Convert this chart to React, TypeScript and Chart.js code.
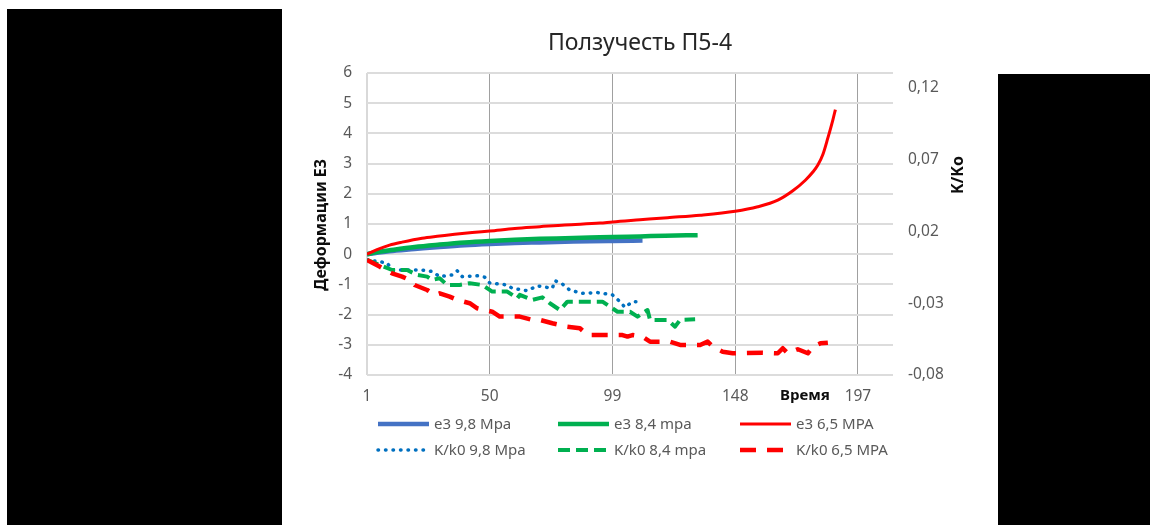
import { useEffect, useRef } from "react";
import { Chart, registerables } from "chart.js";

Chart.register(...registerables);

// ---- Chart text ----
const TITLE = "Ползучесть П5-4";
const Y_LEFT_TITLE = "Деформации Е3";
const Y_RIGHT_TITLE = "K/Ko";
const X_TITLE = "Время";

// ---- Axes ----
const X_MIN = 1;
const X_MAX = 211;
const X_TICKS = [1, 50, 99, 148, 197];
const Y_LEFT_MIN = -4;
const Y_LEFT_MAX = 6;
const Y_RIGHT_MIN = -0.08;
const Y_RIGHT_MAX = 0.13;
const Y_RIGHT_TICKS = [-0.08, -0.03, 0.02, 0.07, 0.12];

// ---- Series: deformation e3 (left axis) ----
const E3_98_NAME = "e3 9,8 Mpa";
const E3_98_T = [1, 5, 10, 20, 30, 40, 50, 60, 70, 80, 90, 99, 111];
const E3_98_V = [0, 0.05, 0.1, 0.17, 0.24, 0.3, 0.34, 0.37, 0.39, 0.41, 0.43, 0.44, 0.45];

const E3_84_NAME = "e3 8,4 mpa";
const E3_84_T = [1, 5, 10, 20, 30, 40, 50, 60, 70, 80, 90, 99, 110, 120, 133];
const E3_84_V = [0, 0.07, 0.13, 0.24, 0.32, 0.39, 0.44, 0.48, 0.51, 0.53, 0.55, 0.57, 0.59, 0.61, 0.63];

const E3_65_NAME = "e3 6,5 MPA";
const E3_65_T = [1, 5, 10, 15, 23, 30, 36, 43, 50, 60, 70, 80, 94, 99, 110, 121, 134, 148, 157, 165, 171, 176, 179, 181, 183, 185, 187, 188];
const E3_65_V = [0, 0.15, 0.3, 0.4, 0.53, 0.6, 0.66, 0.72, 0.77, 0.85, 0.91, 0.97, 1.03, 1.07, 1.14, 1.21, 1.29, 1.42, 1.57, 1.79, 2.1, 2.45, 2.72, 2.95, 3.3, 3.85, 4.45, 4.79];

// ---- Series: permeability ratio K/k0 (right axis) ----
const K_98_NAME = "K/k0 9,8 Mpa";
const K_98_T = [1, 5, 9, 11, 23, 27, 30, 35, 37, 39, 45, 48, 50, 57, 59, 65, 69, 75, 76, 79, 82, 87, 93, 99, 102, 104, 107, 110];
const K_98_V = [0, -0.001, -0.002, -0.007, -0.007, -0.008, -0.0116, -0.0104, -0.0075, -0.0116, -0.011, -0.012, -0.016, -0.0174, -0.0197, -0.0214, -0.018, -0.0197, -0.0144, -0.0167, -0.021, -0.0232, -0.0227, -0.0243, -0.029, -0.033, -0.029, -0.029];

const K_84_NAME = "K/k0 8,4 mpa";
const K_84_T = [1, 11, 17, 21, 25, 27, 30, 33, 38, 42, 47, 51, 57, 61, 62, 67, 71, 74, 78, 81, 95, 101, 106, 109, 113, 114, 121, 124, 126, 132];
const K_84_V = [0, -0.007, -0.007, -0.0104, -0.0116, -0.0139, -0.0127, -0.0174, -0.0174, -0.0162, -0.0174, -0.022, -0.022, -0.0267, -0.0243, -0.0278, -0.026, -0.0301, -0.0348, -0.029, -0.029, -0.036, -0.036, -0.0394, -0.0348, -0.0417, -0.0417, -0.0464, -0.0417, -0.0413];

const K_65_NAME = "K/k0 6,5 MPA";
const K_65_T = [1, 6, 11, 15, 18, 20, 25, 28, 30, 34, 37, 42, 45, 51, 54, 62, 67, 70, 75, 81, 86, 89, 103, 105, 107, 111, 114, 122, 126, 134, 137, 139, 143, 147, 159, 165, 167, 169, 173, 177, 179, 182, 185];
const K_65_V = [0, -0.0046, -0.0093, -0.0116, -0.0139, -0.0174, -0.0209, -0.0243, -0.0232, -0.0255, -0.0278, -0.0301, -0.0336, -0.036, -0.0394, -0.0394, -0.0417, -0.0417, -0.044, -0.0464, -0.0475, -0.0522, -0.0522, -0.0533, -0.0522, -0.0533, -0.0568, -0.0568, -0.0591, -0.0591, -0.0568, -0.0603, -0.0638, -0.0649, -0.0645, -0.0649, -0.0614, -0.0649, -0.0621, -0.0649, -0.0603, -0.058, -0.0575];

const FONT = "'Noto Sans', 'Open Sans', sans-serif";
const TICK_COLOR = "#595959";

const pts = (t: number[], v: number[]) => t.map((x, i) => ({ x, y: v[i] }));
const commaFmt = (v: number) => v.toFixed(2).replace(".", ",");

// Title, axis titles and a three-column legend drawn onto the canvas.
const decorPlugin = {
  id: "decor",
  afterDraw(chart: any) {
    const ctx: CanvasRenderingContext2D = chart.ctx;
    const w = chart.width;
    ctx.save();

    ctx.fillStyle = "#262626";
    ctx.font = `23px ${FONT}`;
    ctx.textAlign = "center";
    ctx.textBaseline = "middle";
    ctx.fillText(TITLE, w / 2, 43);

    ctx.fillStyle = "#0d0d0d";
    ctx.font = `bold 16px ${FONT}`;
    ctx.save();
    ctx.translate(39, 225);
    ctx.rotate(-Math.PI / 2);
    ctx.fillText(Y_LEFT_TITLE, 0, 0);
    ctx.restore();

    ctx.save();
    ctx.translate(676, 175);
    ctx.rotate(-Math.PI / 2);
    ctx.fillText(Y_RIGHT_TITLE, 0, 0);
    ctx.restore();

    ctx.font = `bold 15px ${FONT}`;
    ctx.fillText(X_TITLE, 523, 396);

    // legend: three columns, two rows
    const colX = [96, 276, 458];
    const rowY = [424, 450];
    const lineLen = 51;
    chart.data.datasets.forEach((ds: any, i: number) => {
      const x = colX[i % 3];
      const y = rowY[Math.floor(i / 3)];
      ctx.save();
      ctx.strokeStyle = ds.borderColor;
      ctx.lineWidth = ds.borderWidth;
      ctx.lineCap = ds.borderCapStyle || "butt";
      ctx.setLineDash(ds.borderDash || []);
      ctx.beginPath();
      ctx.moveTo(x, y);
      ctx.lineTo(x + lineLen, y);
      ctx.stroke();
      ctx.restore();
      ctx.fillStyle = TICK_COLOR;
      ctx.font = `15px ${FONT}`;
      ctx.textAlign = "left";
      ctx.textBaseline = "middle";
      ctx.fillText(ds.label, x + lineLen + 5, y + 1);
    });

    ctx.restore();
  },
};

export default function App() {
  const canvasRef = useRef<HTMLCanvasElement | null>(null);

  useEffect(() => {
    const canvas = canvasRef.current;
    if (!canvas) return;

    const chart = new Chart(canvas, {
      type: "line",
      data: {
        datasets: [
          {
            label: E3_98_NAME,
            data: pts(E3_98_T, E3_98_V),
            borderColor: "#4472C4",
            borderWidth: 4.5,
            yAxisID: "y",
            cubicInterpolationMode: "monotone",
            order: 5,
          },
          {
            label: E3_84_NAME,
            data: pts(E3_84_T, E3_84_V),
            borderColor: "#00B050",
            borderWidth: 4.5,
            yAxisID: "y",
            cubicInterpolationMode: "monotone",
            order: 4,
          },
          {
            label: E3_65_NAME,
            data: pts(E3_65_T, E3_65_V),
            borderColor: "#FF0000",
            borderWidth: 3,
            yAxisID: "y",
            cubicInterpolationMode: "monotone",
            order: 3,
          },
          {
            label: K_98_NAME,
            data: pts(K_98_T, K_98_V),
            borderColor: "#0070C0",
            borderWidth: 3.5,
            borderDash: [0.5, 7],
            borderCapStyle: "round",
            yAxisID: "y1",
            order: 2,
          },
          {
            label: K_84_NAME,
            data: pts(K_84_T, K_84_V),
            borderColor: "#00B050",
            borderWidth: 4,
            borderDash: [12, 6],
            yAxisID: "y1",
            order: 1,
          },
          {
            label: K_65_NAME,
            data: pts(K_65_T, K_65_V),
            borderColor: "#FF0000",
            borderWidth: 4.5,
            borderDash: [16, 11],
            yAxisID: "y1",
            order: 0,
          },
        ] as any,
      },
      options: {
        animation: false,
        responsive: false,
        events: [],
        elements: { point: { radius: 0 }, line: { borderJoinStyle: "round" } },
        layout: { padding: { top: 73, left: 0, right: 0, bottom: 0 } },
        plugins: {
          legend: { display: false },
          title: { display: false },
          tooltip: { enabled: false },
        },
        scales: {
          x: {
            type: "linear",
            min: X_MIN,
            max: X_MAX,
            afterBuildTicks: (axis: any) => {
              axis.ticks = X_TICKS.map((value) => ({ value }));
            },
            afterFit: (scale: any) => {
              scale.height = 150;
            },
            border: { display: false },
            grid: {
              drawTicks: false,
              color: (c: any) => (c.tick && c.tick.value === X_MIN ? "#d9d9d9" : "#a0a0a0"),
              lineWidth: (c: any) => (c.tick && c.tick.value === X_MIN ? 2 : 1),
            },
            ticks: {
              padding: 12,
              color: TICK_COLOR,
              font: { family: FONT, size: 15.5 },
              maxRotation: 0,
              autoSkip: false,
              callback: (v: any) => String(v),
            },
          },
          y: {
            type: "linear",
            position: "left",
            min: Y_LEFT_MIN,
            max: Y_LEFT_MAX,
            afterFit: (scale: any) => {
              scale.width = 85;
            },
            border: { display: false },
            grid: { drawTicks: false, color: "#dcdcdc", lineWidth: 2 },
            ticks: {
              stepSize: 1,
              padding: 15,
              color: TICK_COLOR,
              font: { family: FONT, size: 15.5 },
              callback: (v: any) => String(v),
            },
          },
          y1: {
            type: "linear",
            position: "right",
            min: Y_RIGHT_MIN,
            max: Y_RIGHT_MAX,
            afterBuildTicks: (axis: any) => {
              axis.ticks = Y_RIGHT_TICKS.map((value) => ({ value }));
            },
            afterFit: (scale: any) => {
              scale.width = 105;
            },
            border: { display: false },
            grid: { display: false, drawTicks: false },
            ticks: {
              padding: 15,
              color: TICK_COLOR,
              font: { family: FONT, size: 15.5 },
              callback: (v: any) => commaFmt(Number(v)),
            },
          },
        },
      } as any,
      plugins: [decorPlugin],
    });

    return () => chart.destroy();
  }, []);

  return (
    <div
      style={{
        position: "absolute",
        left: 0,
        top: 0,
        width: 1150,
        height: 525,
        background: "#ffffff",
        overflow: "hidden",
      }}
    >
      <div style={{ position: "absolute", left: 7, top: 9, width: 275, height: 516, background: "#000" }} />
      <div style={{ position: "absolute", left: 998, top: 74, width: 152, height: 451, background: "#000" }} />
      <canvas
        ref={canvasRef}
        width={716}
        height={525}
        style={{ position: "absolute", left: 282, top: 0, width: 716, height: 525 }}
      />
    </div>
  );
}
